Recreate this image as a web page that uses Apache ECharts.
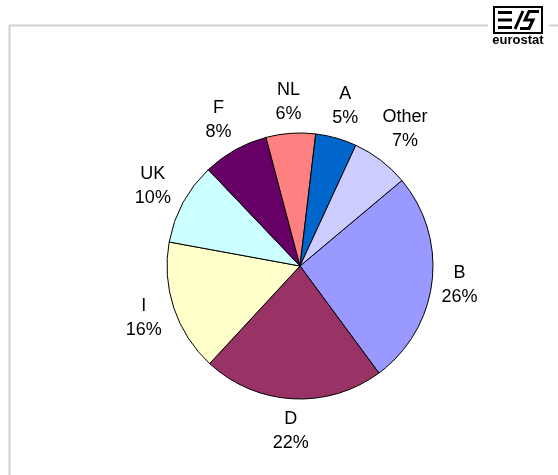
<!DOCTYPE html>
<html>
<head>
<meta charset="utf-8">
<script src="https://cdn.jsdelivr.net/npm/echarts@6/dist/echarts.min.js"></script>
<style>
  html, body { margin: 0; padding: 0; background: #fff; }
  #chart { width: 558px; height: 475px; }
</style>
</head>
<body>
<div id="chart"></div>
<script>
const countries = ['B', 'D', 'I', 'UK', 'F', 'NL', 'A', 'Other']
const shares = [26, 22, 16, 10, 8, 6, 5, 7]
const colors = ['#9999FF', '#993366', '#FFFFCC', '#CCFFFF', '#660066', '#FF8080', '#0066CC', '#CCCCFF']

// pie geometry (px)
const cx = 300
const cy = 266
const radius = 133
const firstAngle = 50 // clockwise from 12 o'clock

const total = shares.reduce((a, b) => a + b, 0)

function midAngle(i) {
  let acc = 0
  for (let k = 0; k < i; k++) acc += shares[k]
  return ((firstAngle + ((acc + shares[i] / 2) / total) * 360) * Math.PI) / 180
}

const chart = echarts.init(document.getElementById('chart'))

chart.setOption({
  animation: false,
  graphic: [
    // frame
    { type: 'polyline', shape: { points: [[9.5, 475], [9.5, 25.5], [488, 25.5]] }, style: { stroke: '#d0d0d0', lineWidth: 2, fill: null } },
    { type: 'line', shape: { x1: 549, y1: 25.5, x2: 558, y2: 25.5 }, style: { stroke: '#d0d0d0', lineWidth: 2 } },
    // eurostat logo
    { type: 'rect', shape: { x: 494, y: 7, width: 48, height: 26 }, style: { stroke: '#000', lineWidth: 2, fill: '#fff' } },
    { type: 'line', shape: { x1: 498, y1: 12.5, x2: 512, y2: 12.5 }, style: { stroke: '#000', lineWidth: 3 } },
    { type: 'line', shape: { x1: 498, y1: 20, x2: 512, y2: 20 }, style: { stroke: '#000', lineWidth: 3 } },
    { type: 'line', shape: { x1: 498, y1: 27.5, x2: 512, y2: 27.5 }, style: { stroke: '#000', lineWidth: 3 } },
    { type: 'line', shape: { x1: 515, y1: 29, x2: 523, y2: 11 }, style: { stroke: '#000', lineWidth: 3 } },
    { type: 'polyline', shape: { points: [[539, 11.5], [529, 11.5], [525, 20], [533, 20], [529, 28.5], [520, 28.5]] }, style: { stroke: '#000', lineWidth: 3, fill: null } },
    { type: 'text', x: 518, y: 40, style: { text: 'eurostat', font: 'bold 13px "Liberation Sans", Arial, sans-serif', fill: '#000', align: 'center', verticalAlign: 'middle' } }
  ],
  series: [
    {
      type: 'pie',
      center: [cx, cy],
      radius: [0, radius],
      startAngle: 90 - firstAngle,
      clockwise: true,
      avoidLabelOverlap: false,
      itemStyle: { borderColor: '#000', borderWidth: 1 },
      emphasis: { disabled: true },
      label: {
        show: true,
        position: 'outside',
        formatter: (p) => p.name + '\n' + p.value + '%',
        fontFamily: '"Liberation Sans", Arial, sans-serif',
        fontSize: 18,
        lineHeight: 24,
        color: '#000',
        align: 'center'
      },
      labelLine: { show: false },
      labelLayout: (params) => {
        const a = midAngle(params.dataIndex)
        const sx = Math.sin(a)
        const sy = -Math.cos(a)
        const w = params.labelRect.width
        const h = params.labelRect.height
        const d = radius + 7 + (Math.abs(sx) * w) / 2 + (Math.abs(sy) * h) / 2
        return { x: cx + d * sx, y: cy + d * sy, align: 'center', verticalAlign: 'middle' }
      },
      data: countries.map((name, i) => ({ name, value: shares[i], itemStyle: { color: colors[i] } }))
    }
  ]
})
</script>
</body>
</html>
